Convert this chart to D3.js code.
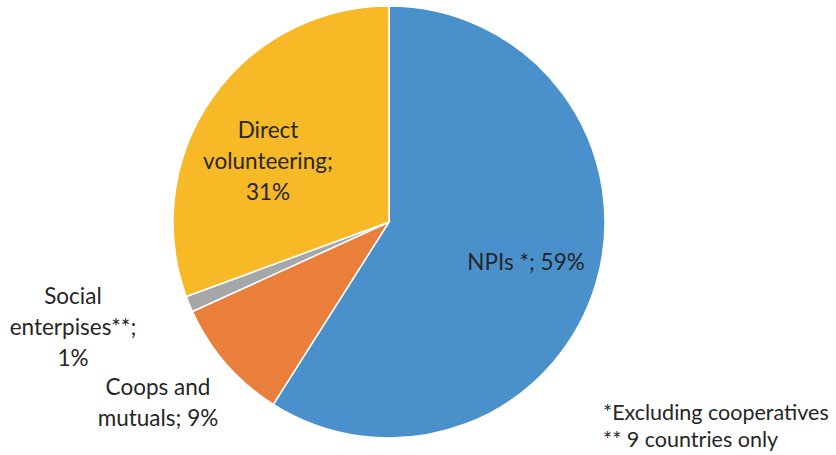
<!DOCTYPE html>
<html><head><meta charset="utf-8">
<script src="https://cdn.jsdelivr.net/npm/d3@7"></script>
<style>body{margin:0;background:#fff}svg text{font-family:Lato,"Noto Sans",sans-serif;fill:#262626}</style>
</head><body>
<svg id="c" width="836" height="455"></svg>
<script>
const categories = ["NPIs *", "Coops and mutuals", "Social enterpises**", "Direct volunteering"];
const values = [59.0, 9.2, 1.2, 30.6];
const labels = [["NPIs *; 59%"], ["Coops and", "mutuals; 9%"], ["Social", "enterpises**;", "1%"], ["Direct", "volunteering;", "31%"]];
const colors = ["#4A90CB", "#E97F3B", "#A6A7A9", "#F8B927"];
const footnotes = ["*Excluding cooperatives", "** 9 countries only"];

const svg = d3.select("#c");
const cx = 389, cy = 222, r = 216;
const pie = d3.pie().sort(null).value(d => d)(values);
const arc = d3.arc().innerRadius(0).outerRadius(r);
const g = svg.append("g").attr("transform", `translate(${cx},${cy})`);
g.selectAll("path").data(pie).join("path")
  .attr("d", arc).attr("fill", (d,i) => colors[i])
  .attr("stroke", "#fff").attr("stroke-width", 1.5);

const labelPos = [[526, 262], [158, 387], [73, 296], [268, 130]];
const fs = 22.5, lh = 31;
labels.forEach((lines, i) => {
  const t = svg.append("text").attr("text-anchor", "middle").attr("font-size", fs);
  lines.forEach((s, j) => t.append("tspan").attr("x", labelPos[i][0]).attr("y", labelPos[i][1] + j*lh + 8).text(s));
});
footnotes.forEach((s, j) => svg.append("text").attr("x", 603).attr("y", 420 + j*27).attr("font-size", 21.5).text(s));
</script>
</body></html>
